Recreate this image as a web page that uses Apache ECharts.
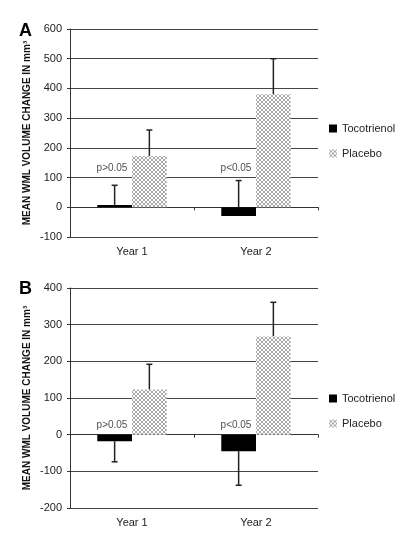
<!DOCTYPE html>
<html>
<head>
<meta charset="utf-8">
<script src="https://cdn.jsdelivr.net/npm/echarts@6/dist/echarts.min.js"></script>
<style>
  html, body { margin: 0; padding: 0; background: #fff; }
  #main { width: 400px; height: 542px; }
</style>
</head>
<body>
<div id="main"></div>
<script>
// data
var categories = ['Year 1', 'Year 2'];
var seriesNames = ['Tocotrienol', 'Placebo'];

// panel A
var tocoA = [8, -29];
var placeboA = [173, 380];
var tocoErrA = [74, 90];
var placeboErrA = [260, 500];
var pTextA = ['p>0.05', 'p<0.05'];
var pYA = [130, 133];

// panel B
var tocoB = [-18, -45];
var placeboB = [123, 268];
var tocoErrB = [-74, -138];
var placeboErrB = [192, 361];
var pTextB = ['p>0.05', 'p<0.05'];
var pYB = [25, 27];

var BAR_PCT = 0.28;
var FONT = '"Liberation Sans", Arial, sans-serif';

// crosshatch fill for placebo
function makeHatch() {
	var c = document.createElement('canvas');
	c.width = 4; c.height = 4;
	var ctx = c.getContext('2d');
	ctx.fillStyle = '#fff';
	ctx.fillRect(0, 0, 4, 4);
	ctx.fillStyle = '#a8a8a8';
	var px = [[0,0],[1,1],[2,2],[3,3],[3,0],[2,1],[1,2],[0,3]];
	for (var i = 0; i < px.length; i++) {
		ctx.fillRect(px[i][0], px[i][1], 1, 1);
	}
	return { image: c, repeat: 'repeat' };
}
var hatch = makeHatch();

function errRender(side) {
	return function(params, api) {
		var cat = api.value(0);
		var p0 = api.coord([cat, api.value(1)]);
		var p1 = api.coord([cat, api.value(2)]);
		var bw = api.size([1, 0])[0] * BAR_PCT;
		var x = p0[0] + side * bw / 2;
		var st = { stroke: '#222', lineWidth: 1.5 };
		return {
			type: 'group',
			children: [
				{ type: 'line', shape: { x1: x, y1: p0[1], x2: x, y2: p1[1] }, style: st },
				{ type: 'line', shape: { x1: x - 3, y1: p1[1], x2: x + 3, y2: p1[1] }, style: st }
			]
		};
	};
}

function errData(vals, ends) {
	var out = [];
	for (var i = 0; i < vals.length; i++) out.push([i, vals[i], ends[i]]);
	return out;
}

function pData(ys) {
	var out = [];
	for (var i = 0; i < ys.length; i++) out.push([i, ys[i]]);
	return out;
}

function axesFor(gi, min, max) {
	var x = [{
		type: 'category', gridIndex: gi, data: categories, position: 'bottom',
		axisLine: { show: false, onZero: false }, axisTick: { show: false },
		axisLabel: { color: '#222', fontSize: 11, fontFamily: FONT, margin: 9 }
	}, {
		type: 'category', gridIndex: gi, data: categories, position: 'bottom',
		axisLine: { show: true, onZero: true, lineStyle: { color: '#333', width: 1 } },
		axisTick: { show: true, length: 3, lineStyle: { color: '#333' } },
		axisLabel: { show: false }
	}];
	var y = {
		type: 'value', gridIndex: gi, min: min, max: max, interval: 100,
		name: '{b|MEAN WML VOLUME CHANGE IN }{n|mm³}',
		nameLocation: 'middle', nameGap: 38, nameRotate: 90, nameMoveOverlap: false,
		nameTextStyle: {
			rich: {
				b: { fontSize: 10, fontWeight: 'bold', fontFamily: FONT, color: '#111' },
				n: { fontSize: 10, fontWeight: 'bold', fontFamily: FONT, color: '#111' }
			}
		},
		axisLine: { show: true, lineStyle: { color: '#333', width: 1 } },
		axisTick: { show: true, length: 3, lineStyle: { color: '#333' } },
		axisLabel: { color: '#222', fontSize: 11, fontFamily: FONT, margin: 8 },
		splitLine: { show: true, lineStyle: { color: '#444', width: 1 } }
	};
	return { x: x, y: y };
}

function seriesFor(gi, toco, placebo, tocoErr, placeboErr, pText, pY) {
	var xi = gi * 2;
	return [{
		name: 'Tocotrienol', type: 'bar', xAxisIndex: xi, yAxisIndex: gi,
		data: toco, barWidth: (BAR_PCT * 100) + '%', barGap: '0%', z: 3,
		itemStyle: { color: '#000' }
	}, {
		name: 'Placebo', type: 'bar', xAxisIndex: xi, yAxisIndex: gi,
		data: placebo, barWidth: (BAR_PCT * 100) + '%', barGap: '0%', z: 3,
		itemStyle: { color: hatch }
	}, {
		type: 'custom', xAxisIndex: xi, yAxisIndex: gi, z: 2,
		renderItem: errRender(-1), data: errData(toco, tocoErr),
		encode: { x: 0, y: [1, 2] }, silent: true
	}, {
		type: 'custom', xAxisIndex: xi, yAxisIndex: gi, z: 2,
		renderItem: errRender(1), data: errData(placebo, placeboErr),
		encode: { x: 0, y: [1, 2] }, silent: true
	}, {
		type: 'scatter', xAxisIndex: xi, yAxisIndex: gi, symbolSize: 0,
		data: pData(pY), silent: true, z: 4,
		label: {
			show: true, position: 'inside', offset: [-20, 0],
			formatter: function(p) { return pText[p.dataIndex]; },
			color: '#222', fontSize: 10, fontFamily: FONT
		}
	}];
}

var axA = axesFor(0, -100, 600);
var axB = axesFor(1, -200, 400);

var legendBase = {
	data: seriesNames, orient: 'vertical', left: 324,
	itemWidth: 8, itemHeight: 8, itemGap: 14, icon: 'rect',
	textStyle: { fontSize: 11, color: '#222', fontFamily: FONT }
};

var option = {
	animation: false,
	backgroundColor: '#fff',
	textStyle: { fontFamily: FONT },
	grid: [
		{ left: 70, right: 82, top: 29, height: 208 },
		{ left: 70, right: 82, top: 288, height: 220 }
	],
	xAxis: axA.x.concat(axB.x),
	yAxis: [axA.y, axB.y],
	legend: [
		Object.assign({}, legendBase, { top: 118 }),
		Object.assign({}, legendBase, { top: 388 })
	],
	graphic: [
		{ type: 'text', left: 19, top: 22, style: { text: 'A', font: 'bold 18px ' + FONT, fill: '#000' } },
		{ type: 'text', left: 19, top: 280, style: { text: 'B', font: 'bold 18px ' + FONT, fill: '#000' } }
	],
	series: seriesFor(0, tocoA, placeboA, tocoErrA, placeboErrA, pTextA, pYA)
		.concat(seriesFor(1, tocoB, placeboB, tocoErrB, placeboErrB, pTextB, pYB))
};

var myChart = echarts.init(document.getElementById('main'));
myChart.setOption(option);
</script>
</body>
</html>
